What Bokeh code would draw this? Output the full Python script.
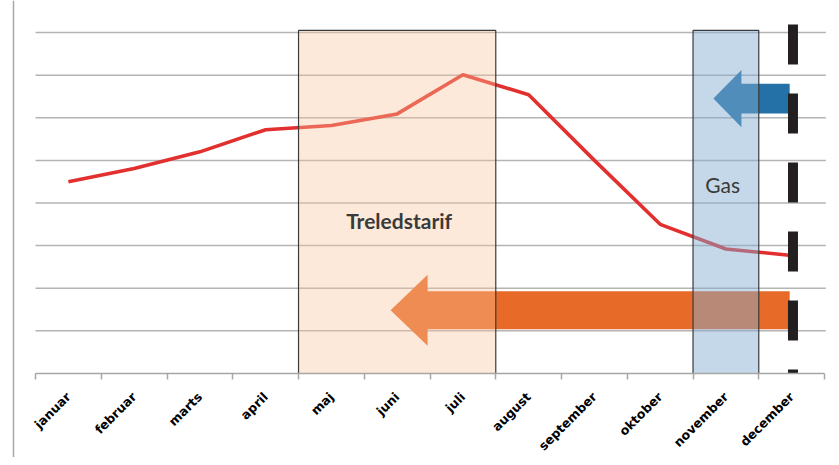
import math
from bokeh.plotting import figure
from bokeh.models import Range1d, LinearAxis, FixedTicker, Span, ColumnDataSource
from bokeh.core.properties import value
from bokeh.embed import file_html
from bokeh.resources import INLINE

# ---------------- data ----------------
months = ["januar", "februar", "marts", "april", "maj", "juni", "juli",
          "august", "september", "oktober", "november", "december"]
consumption = [4.50, 4.81, 5.20, 5.72, 5.82, 6.09, 7.01, 6.54, 5.00, 3.50, 2.92, 2.77]
grid_levels = [1, 2, 3, 4, 5, 6, 7, 8]

band_labels = ["Treledstarif", "Gas"]
band_first = ["maj", "november"]
band_last = ["juli", "november"]
band_top = 8.05
band_label_y = [3.59, 4.43]

arrow_tail = ["december", "december"]
arrow_tip = [4.90, 9.81]
arrow_level = [1.485, 6.45]

marker_month = "december"
marker_top = 8.19

# ---------------- helpers ----------------
idx = {m: i for i, m in enumerate(months)}
xs = list(range(len(months)))
n = len(months)

W, H = 831, 457
p = figure(width=W, height=H, x_range=Range1d(-1.0327, 11.606), y_range=Range1d(-1.971, 8.751),
           min_border=0, toolbar_location=None, output_backend="svg",
           x_axis_type=None, y_axis_type=None)
p.outline_line_color = None
p.background_fill_color = "white"
p.border_fill_color = "white"

# left frame line
p.add_layout(Span(location=-0.835, dimension="height", line_color="#a8a8a8", line_width=1.5))

# gridlines
p.segment(x0=[-0.5] * len(grid_levels), x1=[n - 0.48] * len(grid_levels),
          y0=grid_levels, y1=grid_levels, line_color="#b4b4b4", line_width=1.5)

# consumption line
p.line(xs, consumption, line_color="#e2302f", line_width=3.6)

# arrows
def arrow_poly(tail, tip, y, shaft_half, head_half, head_len):
    base = tip + head_len
    px = [tail, base, base, tip, base, base, tail]
    py = [y + shaft_half, y + shaft_half, y + head_half, y, y - head_half, y - shaft_half, y - shaft_half]
    return px, py

# orange arrow (Treledstarif)
ox, oy = arrow_poly(idx[arrow_tail[0]] - 0.03, arrow_tip[0], arrow_level[0], 0.446, 0.833, 0.563)
p.patch(ox, oy, fill_color="#e86a28", line_color=None)
# blue arrow (Gas)
bx, by = arrow_poly(idx[arrow_tail[1]] - 0.03, arrow_tip[1], arrow_level[1], 0.35, 0.67, 0.426)
p.patch(bx, by, fill_color="#2471a8", line_color=None)

# bands
band_src = ColumnDataSource(dict(
    left=[idx[m] - 0.5 for m in band_first],
    right=[idx[m] + 0.5 for m in band_last],
    top=[band_top] * len(band_labels),
    bottom=[0] * len(band_labels),
    color=["#fac49a", "#82acd0"],
    alpha=[0.375, 0.47],
))
p.quad(left="left", right="right", top="top", bottom="bottom", source=band_src,
       fill_color="color", fill_alpha="alpha", line_color="#3a3a3a", line_width=1.2)

# dashed marker
mx = idx[marker_month]
p.segment(x0=[mx + 0.02], y0=[marker_top], x1=[mx + 0.02], y1=[0], line_color="#231f20",
          line_width=10, line_dash="40 29", line_cap="butt")

# band texts
centers = [(idx[a] + idx[b]) / 2 for a, b in zip(band_first, band_last)]
p.text(x=[centers[0] + 0.03], y=[band_label_y[0]], text=[band_labels[0]],
       text_font=value("Lato"), text_font_size="21px", text_font_style="bold",
       text_color="#3a3a3a", text_align="center", text_baseline="middle")
p.text(x=[centers[1] - 0.05], y=[band_label_y[1]], text=[band_labels[1]],
       text_font=value("Lato"), text_font_size="21px", text_font_style="normal",
       text_color="#3a3a3a", text_align="center", text_baseline="middle")

# x axis
ticker = FixedTicker(ticks=xs, minor_ticks=[i - 0.5 for i in range(n + 1)])
xaxis = LinearAxis(ticker=ticker, fixed_location=0, bounds=(-0.5, n - 0.5),
                   major_label_overrides={i: m for i, m in enumerate(months)},
                   major_label_orientation=math.pi / 4)
xaxis.axis_line_color = "#a6a6a6"
xaxis.axis_line_width = 1.5
xaxis.major_tick_out = 0
xaxis.major_tick_in = 0
xaxis.major_tick_line_color = None
xaxis.minor_tick_out = 6
xaxis.minor_tick_in = 0
xaxis.minor_tick_line_color = "#a6a6a6"
xaxis.minor_tick_line_width = 1.5
xaxis.major_label_text_font = "DejaVu Sans"
xaxis.major_label_text_font_style = "bold"
xaxis.major_label_text_font_size = "12.5px"
xaxis.major_label_text_color = "black"
xaxis.major_label_standoff = 15
p.add_layout(xaxis, "below")

open("out.html", "w").write(file_html(p, INLINE))
